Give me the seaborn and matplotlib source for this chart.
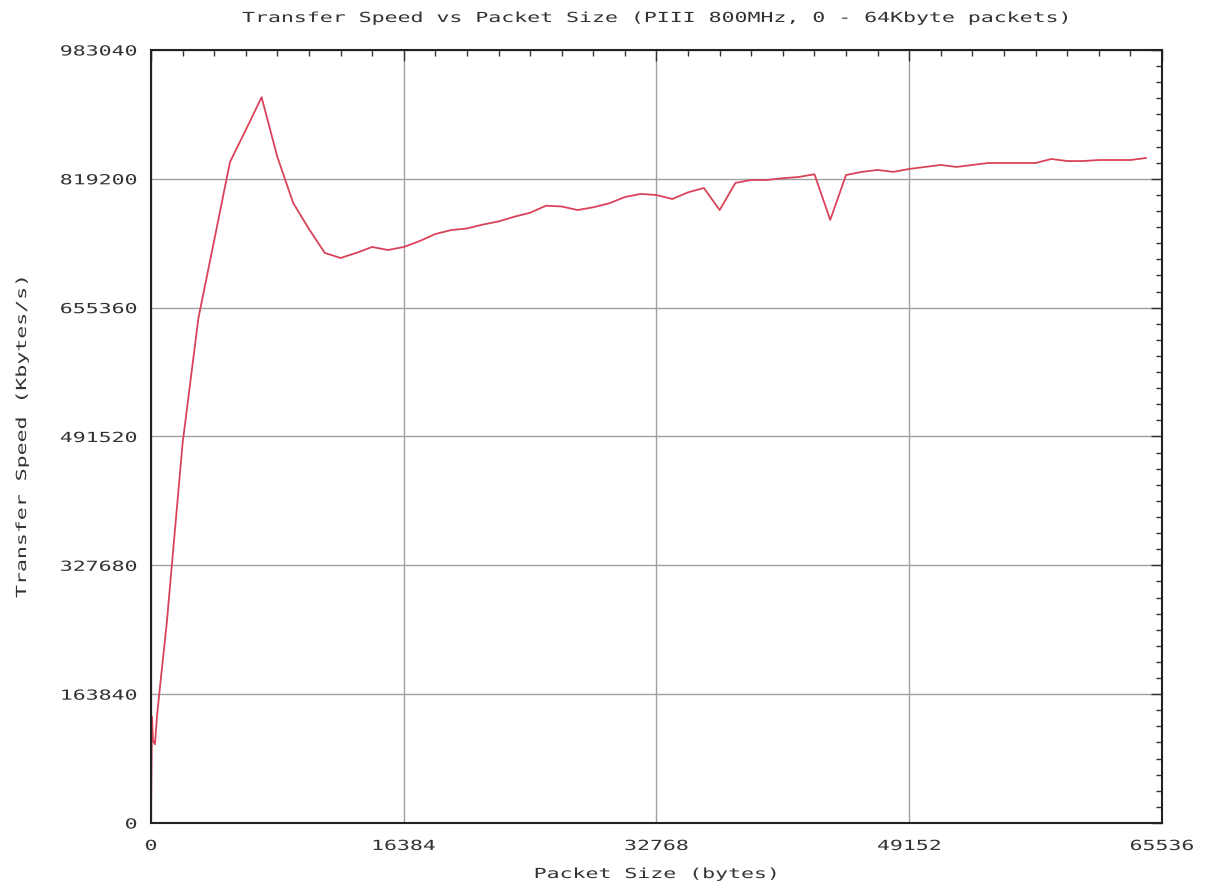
import numpy as np
import pandas as pd
import matplotlib
matplotlib.use("Agg")
import matplotlib.pyplot as plt
import seaborn as sns
from matplotlib.ticker import MultipleLocator, FixedLocator
from matplotlib.patheffects import AbstractPathEffect
from matplotlib.transforms import Affine2D

# ---- data ----
packet_size = [0, 64, 128, 256, 384, 512,
               1024, 2048, 3072, 4096, 5120, 6144, 7168, 8192, 9216, 10240,
               11264, 12288, 13312, 14336, 15360, 16384, 17408, 18432, 19456,
               20480, 21504, 22528, 23552, 24576, 25600, 26624, 27648, 28672,
               29696, 30720, 31744, 32768, 33792, 34816, 35840, 36864, 37888,
               38912, 39936, 40960, 41984, 43008, 44032, 45056, 46080, 47104,
               48128, 49152, 50176, 51200, 52224, 53248, 54272, 55296, 56320,
               57344, 58368, 59392, 60416, 61440, 62464, 63488, 64512]
speed = [10000, 135000, 105000, 100000, 135000, 160000,
         255000, 483000, 642000, 741000, 840600, 881300, 923000, 847000,
         788500, 755400, 725000, 718500, 725000, 732500, 728700, 732500,
         740000, 749000, 754000, 756000, 761000, 765000, 771000, 776000,
         785000, 784000, 779500, 783000, 788000, 796000, 800000, 798600,
         793500, 802000, 807500, 779500, 814000, 817700, 817700, 820000,
         821500, 825000, 767000, 824000, 828000, 830500, 828000, 831700,
         834300, 836800, 834300, 836800, 839300, 839300, 839300, 839300,
         844400, 841800, 841800, 843100, 843100, 843100, 845700]

x_ticks = [0, 16384, 32768, 49152, 65536]
y_ticks = [0, 163840, 327680, 491520, 655360, 819200, 983040]

title = "Transfer Speed vs Packet Size (PIII 800MHz, 0 - 64Kbyte packets)"
x_label = "Packet Size (bytes)"
y_label = "Transfer Speed (Kbytes/s)"


class Stretch(AbstractPathEffect):
    """Widen glyphs horizontally (old gnuplot bitmap font look)."""
    def __init__(self, sx, anchor="center"):
        super().__init__()
        self.sx = sx
        self.anchor = anchor

    def draw_path(self, renderer, gc, tpath, affine, rgbFace=None):
        ext = tpath.get_extents()
        if self.anchor == "center":
            a = (ext.x0 + ext.x1) / 2
        elif self.anchor == "right":
            a = ext.x1
        else:
            a = ext.x0
        pre = Affine2D().translate(-a, 0).scale(self.sx, 1.0).translate(a, 0)
        renderer.draw_path(gc, tpath, pre + affine, rgbFace)


df = pd.DataFrame({"size": packet_size, "speed": speed})

sns.set_style("white")
plt.rcParams['font.family'] = ['DejaVu Sans Mono']

TXT = "#333333"
FS = 10
SX = 1.55

fig = plt.figure(figsize=(12.1, 8.86), dpi=100)
ax = fig.add_axes([0.1248, 0.0711, 0.8355, 0.8725])

sns.lineplot(data=df, x="size", y="speed", ax=ax, color="#d9435a",
             linewidth=1.3, estimator=None, sort=False)

ax.set_xlim(0, 65536)
ax.set_ylim(0, 983040)
ax.xaxis.set_major_locator(FixedLocator(x_ticks))
ax.yaxis.set_major_locator(FixedLocator(y_ticks))
ax.set_xticklabels([str(v) for v in x_ticks])
ax.set_yticklabels([str(v) for v in y_ticks])
ax.xaxis.set_minor_locator(MultipleLocator(2048))
ax.yaxis.set_minor_locator(MultipleLocator(20480))

ax.grid(True, which="major", color="#a0a0a0", linewidth=1.0)
ax.set_axisbelow(True)

ax.tick_params(which="both", direction="in", top=True, right=True,
               color="#333333")
ax.tick_params(which="major", length=8, width=1.0, labelsize=FS,
               labelcolor=TXT)
ax.tick_params(axis="y", which="major", pad=10)
ax.tick_params(axis="x", which="major", pad=11.5)
ax.tick_params(which="minor", length=4, width=1.0)

for s in ax.spines.values():
    s.set_visible(True)
    s.set_color("#222222")
    s.set_linewidth(1.5)

ax.set_xlabel(x_label, fontsize=FS, color=TXT, va="center", ha="center")
ax.set_ylabel(y_label, fontsize=FS, color=TXT, va="center", ha="center")
ax.xaxis.set_label_coords(0.5, (823 - 874) / 773)
ax.yaxis.set_label_coords((22 - 151) / 1011, 0.5)

t = fig.text(0.5 * (151 + 1162) / 1210, 1 - 18 / 886, title, fontsize=FS,
             color=TXT, ha="center", va="center")

t.set_path_effects([Stretch(SX, "center")])
ax.xaxis.label.set_path_effects([Stretch(SX, "center")])
ax.yaxis.label.set_path_effects([Stretch(SX, "center")])
for lab in ax.get_xticklabels():
    lab.set_path_effects([Stretch(SX, "center")])
for lab in ax.get_yticklabels():
    lab.set_path_effects([Stretch(SX, "right")])

fig.savefig("out.png", dpi=100)
